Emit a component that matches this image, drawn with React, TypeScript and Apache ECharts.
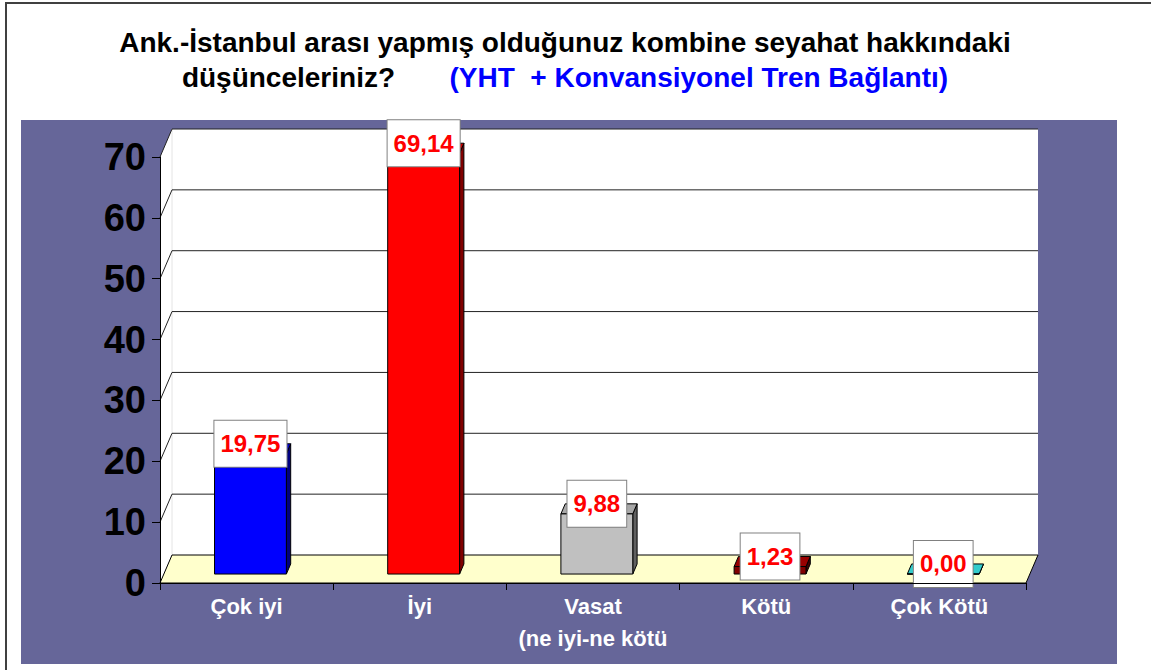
import React, { useEffect, useRef } from 'react';
import * as echarts from 'echarts';

const categories = ['Çok iyi', 'İyi', 'Vasat\n(ne iyi-ne kötü', 'Kötü', 'Çok Kötü'];
const values = [19.75, 69.14, 9.88, 1.23, 0.0];
const frontColors = ['#0000FF', '#FF0000', '#C0C0C0', '#800000', '#33CCCC'];
const sideColors = ['#000080', '#800000', '#606060', '#400000', '#1A6666'];
const topColors = ['#0000CC', '#CC0000', '#A8A8A8', '#990000', '#33CCCC'];
const yTicks = [0, 10, 20, 30, 40, 50, 60, 70];
const titleLine1 = 'Ank.-İstanbul arası yapmış olduğunuz kombine seyahat hakkındaki';
const titleLine2a = 'düşünceleriniz?';
const titleLine2b = '(YHT  + Konvansiyonel Tren Bağlantı)';

const FONT = 'Arial, "Liberation Sans", sans-serif';
// 3D projection: full depth shift in pixels
const DX = 12;
const DY = 28;
const D0 = 0.32;
const D1 = 0.68;

const fmt = (v: number) => v.toFixed(2).replace('.', ',');

export default function App() {
  const ref = useRef<HTMLDivElement>(null);
  useEffect(() => {
    document.body.style.margin = '0';
    const chart = echarts.init(ref.current!, null, { renderer: 'svg' });
    const option: any = {
      animation: false,
      backgroundColor: '#FFFFFF',
      title: {
        text: titleLine1 + '\n{a|' + titleLine2a + '}       {b|' + titleLine2b + '}',
        left: 565,
        top: 25,
        padding: 0,
        textAlign: 'center',
        textStyle: {
          fontFamily: FONT,
          fontSize: 28,
          fontWeight: 'bold',
          color: '#000000',
          lineHeight: 35,
          rich: {
            a: { fontFamily: FONT, fontSize: 28, fontWeight: 'bold', color: '#000000', lineHeight: 35 },
            b: { fontFamily: FONT, fontSize: 28, fontWeight: 'bold', color: '#0000FF', lineHeight: 35 },
          },
        },
      },
      graphic: [
        {
          type: 'rect',
          z: -10,
          shape: { x: 6, y: 3, width: 1300, height: 800 },
          style: { fill: '#FFFFFF', stroke: '#404040', lineWidth: 2 },
        },
        {
          type: 'rect',
          z: -9,
          shape: { x: 21, y: 120, width: 1096, height: 544 },
          style: { fill: '#666699' },
        },
      ],
      grid: {
        left: 160,
        right: 125,
        top: 157,
        bottom: 87,
        containLabel: false,
        outerBoundsMode: 'none',
      },
      xAxis: {
        type: 'category',
        data: categories,
        z: 4,
        axisLine: { show: true, lineStyle: { color: '#000000', width: 1 } },
        axisTick: { show: true, length: 7, lineStyle: { color: '#000000' } },
        axisLabel: {
          color: '#FFFFFF',
          fontFamily: FONT,
          fontSize: 22,
          fontWeight: 'bold',
          lineHeight: 32,
          margin: 7,
          interval: 0,
        },
        splitLine: { show: false },
      },
      yAxis: {
        type: 'value',
        min: 0,
        max: 70,
        interval: 10,
        z: 4,
        axisLine: { show: true, lineStyle: { color: '#000000', width: 1 } },
        axisTick: { show: true, length: 8, lineStyle: { color: '#000000' } },
        axisLabel: {
          color: '#000000',
          fontFamily: FONT,
          fontSize: 38,
          fontWeight: 'bold',
          margin: 14,
        },
        splitLine: { show: false },
      },
      series: [
        {
          type: 'custom',
          name: 'frame',
          z: 1,
          silent: true,
          clip: false,
          data: [[0, 0]],
          encode: { x: 0, y: 1 },
          renderItem: (params: any, api: any) => {
            const cs = params.coordSys;
            const L = cs.x;
            const R = cs.x + cs.width;
            const T = cs.y;
            const B = cs.y + cs.height;
            const children: any[] = [];
            children.push({
              type: 'polygon',
              shape: { points: [[L + DX, T - DY], [R + DX, T - DY], [R + DX, B - DY], [L + DX, B - DY]] },
              style: { fill: '#FFFFFF' },
            });
            children.push({
              type: 'polygon',
              shape: { points: [[L, T], [L + DX, T - DY], [L + DX, B - DY], [L, B]] },
              style: { fill: '#FFFFFF' },
            });
            children.push({
              type: 'line',
              shape: { x1: L + DX, y1: T - DY, x2: L + DX, y2: B - DY },
              style: { stroke: '#E4E4E4', lineWidth: 1 },
            });
            children.push({
              type: 'polygon',
              shape: { points: [[L, B], [R, B], [R + DX, B - DY], [L + DX, B - DY]] },
              style: { fill: '#FFFFCC', stroke: '#000000', lineWidth: 1 },
            });
            yTicks.forEach((t) => {
              if (t === 0) return;
              const y = api.coord([0, t])[1];
              children.push({
                type: 'polyline',
                shape: { points: [[L, y], [L + DX, y - DY], [R + DX, y - DY]] },
                style: { stroke: '#222222', lineWidth: 1, fill: 'none' },
              });
            });
            return { type: 'group', children };
          },
        },
        {
          type: 'custom',
          name: 'bars',
          z: 3,
          clip: false,
          data: values.map((v, i) => [i, v]),
          encode: { x: 0, y: 1 },
          renderItem: (params: any, api: any) => {
            const idx = api.value(0);
            const v = api.value(1);
            const top = api.coord([idx, v]);
            const base = api.coord([idx, 0]);
            const band = api.size([1, 0])[0];
            const w = band * 0.415;
            const cx = top[0] + DX * D0;
            const x0 = cx - w / 2;
            const x1 = cx + w / 2;
            const yT = top[1] - DY * D0;
            const yB = base[1] - DY * D0;
            const ddx = DX * (D1 - D0);
            const ddy = DY * (D1 - D0);
            const i = params.dataIndex;
            return {
              type: 'group',
              children: [
                {
                  type: 'polygon',
                  shape: { points: [[x1, yT], [x1, yB], [x1 + ddx, yB - ddy], [x1 + ddx, yT - ddy]] },
                  style: { fill: sideColors[i], stroke: '#000000', lineWidth: 1 },
                },
                {
                  type: 'polygon',
                  shape: { points: [[x0, yT], [x1, yT], [x1 + ddx, yT - ddy], [x0 + ddx, yT - ddy]] },
                  style: { fill: topColors[i], stroke: '#000000', lineWidth: 1 },
                },
                {
                  type: 'rect',
                  shape: { x: x0, y: yT, width: w, height: Math.max(0, yB - yT) },
                  style: { fill: frontColors[i], stroke: '#000000', lineWidth: 1 },
                },
                {
                  type: 'text',
                  x: cx,
                  y: yT - ddy,
                  style: {
                    text: fmt(values[i]),
                    align: 'center',
                    verticalAlign: 'middle',
                    fill: '#FF0000',
                    font: 'bold 24px ' + FONT,
                    lineHeight: 24,
                    backgroundColor: '#FFFFFF',
                    borderColor: '#808080',
                    borderWidth: 1,
                    padding: [11, 6, 11, 6],
                  },
                },
              ],
            };
          },
        },
      ],
    };
    chart.setOption(option);
    return () => chart.dispose();
  }, []);
  return <div ref={ref} style={{ width: 1151, height: 670 }} />;
}
